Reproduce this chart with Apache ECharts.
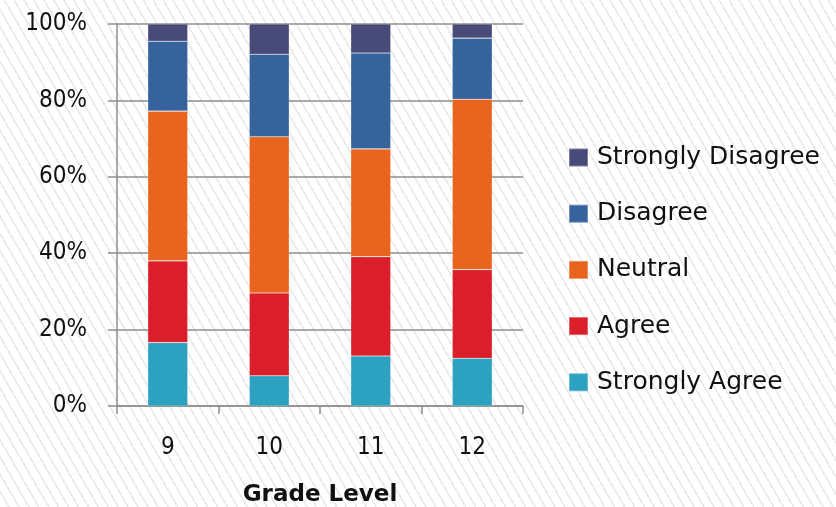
<!DOCTYPE html>
<html>
<head>
<meta charset="utf-8">
<script src="https://cdn.jsdelivr.net/npm/echarts@6/dist/echarts.min.js"></script>
<style>
  html, body { margin: 0; padding: 0; }
  body {
    width: 836px; height: 507px;
    background-color: #ffffff;
    background-image: repeating-linear-gradient(60deg, #ffffff 0px, #ffffff 7px, #e9e9e9 7px, #e9e9e9 8.6px);
  }
  #chart { width: 836px; height: 507px; }
</style>
</head>
<body>
<div id="chart"></div>
<script>
// Grade levels along the x axis
const grades = ['9', '10', '11', '12'];

// Share of responses (%) per grade, bottom to top of each stack
const stronglyAgree    = [16.6, 7.9, 13.1, 12.5];
const agree            = [21.4, 21.7, 26.0, 23.2];
const neutral          = [39.2, 40.9, 28.2, 44.6];
const disagree         = [18.3, 21.6, 25.1, 16.0];
const stronglyDisagree = [4.5, 7.9, 7.6, 3.7];

const seriesNames  = ['Strongly Agree', 'Agree', 'Neutral', 'Disagree', 'Strongly Disagree'];
const seriesValues = [stronglyAgree, agree, neutral, disagree, stronglyDisagree];
const seriesColors = ['#2ca2c0', '#da1f2a', '#e8641f', '#36639c', '#484a78'];

const yTicks = [0, 20, 40, 60, 80, 100];

const fontFamily = '"DejaVu Sans", Verdana, sans-serif';
const axisFont = '"DejaVu Sans Condensed", "DejaVu Sans", sans-serif';
const gridColor = '#8e8e8e';

const chart = echarts.init(document.getElementById('chart'), null, { renderer: 'canvas' });

chart.setOption({
  backgroundColor: 'transparent',
  animation: false,
  textStyle: { fontFamily: fontFamily },
  grid: { left: 117, right: 313, top: 24, bottom: 101, containLabel: false, outerBoundsMode: 'none' },
  legend: {
    orient: 'vertical',
    left: 563,
    top: 140,
    itemWidth: 19,
    itemHeight: 18,
    itemGap: 31.2,
    icon: 'rect',
    data: seriesNames.slice().reverse(),
    textStyle: { fontSize: 25, color: '#111111', fontFamily: fontFamily, padding: [0, 0, 0, 4] }
  },
  xAxis: {
    type: 'category',
    data: grades,
    name: 'Grade Level',
    nameLocation: 'middle',
    nameGap: 78,
    nameTextStyle: { fontSize: 23, fontWeight: 'bold', color: '#111111', fontFamily: fontFamily },
    axisLine: { show: true, lineStyle: { color: gridColor, width: 1.5 } },
    axisTick: { show: true, length: 8, alignWithLabel: false, lineStyle: { color: gridColor, width: 1.5 } },
    axisLabel: { fontSize: 24, color: '#111111', margin: 30, fontFamily: axisFont },
    splitLine: { show: false }
  },
  yAxis: {
    type: 'value',
    min: yTicks[0],
    max: yTicks[yTicks.length - 1],
    interval: 20,
    axisLine: { show: true, lineStyle: { color: gridColor, width: 1.5 } },
    axisTick: { show: true, length: 9, lineStyle: { color: gridColor, width: 1.5 } },
    axisLabel: { formatter: '{value}%', fontSize: 24, color: '#111111', margin: 30, fontFamily: axisFont, padding: [0, 0, 5, 0] },
    splitLine: { show: true, lineStyle: { color: gridColor, width: 1.5 } }
  },
  series: seriesNames.map((name, i) => ({
    name: name,
    type: 'bar',
    stack: 'total',
    barWidth: 40,
    data: seriesValues[i],
    itemStyle: { color: seriesColors[i], borderColor: 'rgba(255,255,255,0.3)', borderWidth: 0.6 }
  }))
});
</script>
</body>
</html>
